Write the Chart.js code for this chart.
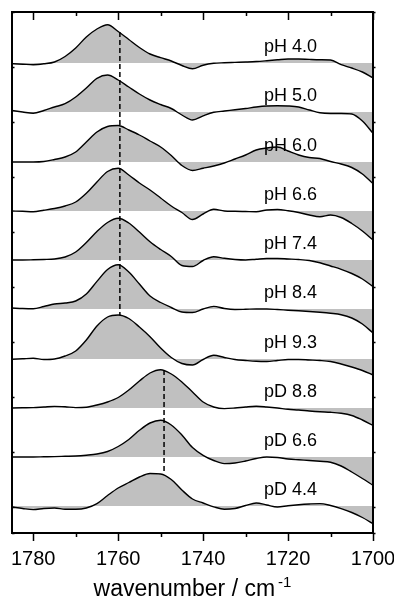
<!DOCTYPE html>
<html>
<head>
<meta charset="utf-8">
<script src="https://cdn.jsdelivr.net/npm/chart.js@4.4.1/dist/chart.umd.min.js"></script>
<style>
  html, body { margin: 0; padding: 0; background: #fff; }
  canvas { display: block; }
</style>
</head>
<body>
<canvas id="spectra" width="394" height="599"></canvas>
<script>
// wavenumber grid (cm-1), shared by all traces
const WAVENUMBERS = [1785,1782.5,1780,1777.5,1775,1772.5,1770,1767.5,1765,1762.5,1760,1757.5,1755,1752.5,1750,1747.5,1745,1742.5,1740,1737.5,1735,1732.5,1730,1727.5,1725,1722.5,1720,1717.5,1715,1712.5,1710,1707.5,1705,1702.5,1700];

const LABELS  = ['pH 4.0','pH 5.0','pH 6.0','pH 6.6','pH 7.4','pH 8.4','pH 9.3','pD 8.8','pD 6.6','pD 4.4'];
// vertical offset of each trace's baseline (arb. units)
const OFFSETS = [444, 395, 345, 296, 247, 198, 148, 99, 50, 1];

// difference absorbance (arb. units)
const pH40 = [-0.7,-1.2,-1.7,-0.8,1,6.5,15,26,34,38.3,31.5,23.5,15.5,9,5.3,2,-2.5,-5.8,-2.2,-0.3,0.2,0.6,1,1.5,2.3,3.2,4,4,3.6,3.3,3,-1.7,-5,-9,-15];
const pH50 = [1.5,0,-1.3,1.5,5,8.3,15,24,33.7,37,32,25,18,12,7.5,3.5,-3,-8,-3.8,-0.3,1,2.2,3.5,5,6,6.2,6,5,2,-0.8,-1.5,-1.5,-2,-9,-21.3];
const pH60 = [0,0,0,0.5,2.5,5,10,20,30,35.5,36.5,32,27,21,15,6.5,-3.5,-8.5,-6.3,-4,-1,3,7,12,14,15,11,7,4.5,3.5,0.5,-2,-5.5,-12,-21.6];
const pH66 = [0,-0.3,-0.7,0.8,2.5,5,9,17.7,29,39.5,42.7,36,28,21,13,5,-1.5,-8.5,-3,1.7,0,-0.3,-0.5,-0.7,1,1.5,0.3,-1.5,-4,-5.7,-4,-6.5,-12.5,-20,-29];
const pH74 = [0,0,0.2,0.5,1,3,8,17.5,28.5,37.5,41.7,37,28,18.3,10.5,3.5,-5.5,-6.5,-0.5,3.3,1.7,0.5,0,0.8,1.5,1.5,1,0.5,-0.5,-2.8,-6,-9.3,-13.5,-19,-26.7];
const pH84 = [1,0.5,0.3,2.5,5,6,8,15,27.6,39.5,44.3,37,25,13,6.5,1.5,-3,-3.5,0,2.6,0.5,-0.5,-0.3,0,0,-0.5,-1.2,-1.8,-2.5,-3.3,-4.3,-5.7,-9,-15,-24];
const pH93 = [-0.3,0.2,0.7,-0.5,0,3,8,19,33,42,44,40.5,32,22.3,11,1.5,-4.5,-6,-0.5,3.8,1.5,-0.5,-1.5,-2.3,-2.5,-1.5,-0.5,-0.5,-1,-1.5,-2.5,-5,-8,-11.5,-16];
const pD88 = [0,0.2,0.4,1,1.6,1.2,0.4,0.8,3,6,10.5,18,27,35,38.3,34,26,16,6,1,-0.6,0,1,1.7,1,0,-1.3,-2,-3,-3.8,-4.3,-5.3,-7.5,-12,-17.3];
const pD66 = [0,0,0,0.2,0.4,0.7,1,1.8,3,5.5,10.5,17.5,26.7,34,36.7,32,22,9.5,1.7,-3.5,-6.6,-6,-4,-1.5,0,-0.5,-2,-2.8,-3.5,-4.3,-5.2,-9,-15,-21.5,-28.3];
const pD44 = [-1,-2.5,-3.6,-2.5,-2,-3.2,-3.3,-2,2.4,10.5,18,23.5,29,32.5,32,26.5,16,7,3,-0.8,-3.3,-2.5,0.5,3,1,-1,0.3,1.3,2,2.4,0.5,-2.6,-6.5,-11.5,-17.6];
const SERIES = [pH40, pH50, pH60, pH66, pH74, pH84, pH93, pD88, pD66, pD44];

// dashed guide lines: band position and vertical extent
const GUIDE_WN     = [1759.6, 1749.2];
const GUIDE_TOP    = [475, 137];
const GUIDE_BOTTOM = [192, 33];

const LABEL_WN = 1719.4;
const FONT = '"Liberation Sans", Arial, Helvetica, sans-serif';

Chart.defaults.font.family = FONT;
Chart.defaults.color = '#000';

const traceSets = SERIES.map((s, i) => ({
  label: LABELS[i],
  data: WAVENUMBERS.map((w, j) => ({ x: w, y: OFFSETS[i] + s[j] })),
  borderColor: '#000',
  borderWidth: 1.4,
  backgroundColor: '#c0c0c0',
  fill: { value: OFFSETS[i] },
  pointRadius: 0,
  cubicInterpolationMode: 'monotone',
  order: 2
}));

const guideSets = GUIDE_WN.map((w, i) => ({
  data: [{ x: w, y: GUIDE_TOP[i] }, { x: w, y: GUIDE_BOTTOM[i] }],
  borderColor: '#000',
  borderWidth: 1.5,
  borderDash: [5, 3],
  pointRadius: 0,
  fill: false,
  order: 1
}));

// frame, inward/outward ticks, trace names and the axis title
const decorations = {
  id: 'decorations',
  afterDatasetsDraw(chart) {
    const { ctx, chartArea: a, scales: { x, y } } = chart;
    ctx.save();
    ctx.fillStyle = '#000';
    ctx.strokeStyle = '#000';

    ctx.font = '18px ' + FONT;
    ctx.textAlign = 'center';
    ctx.textBaseline = 'alphabetic';
    LABELS.forEach((t, i) => {
      ctx.fillText(t, x.getPixelForValue(LABEL_WN), y.getPixelForValue(OFFSETS[i]) - 11);
    });

    ctx.lineWidth = 1.5;
    ctx.beginPath();
    const majors = x.ticks.map(t => t.value);
    const minors = majors.map(v => v + 10).filter(v => v < x.max);
    [[majors, 8], [minors, 4]].forEach(([vals, len]) => {
      vals.forEach(v => {
        const px = Math.round(x.getPixelForValue(v)) + 0.5;
        ctx.moveTo(px, a.top); ctx.lineTo(px, a.top + len);
        ctx.moveTo(px, a.bottom); ctx.lineTo(px, a.bottom + len);
      });
    });
    y.ticks.forEach(t => {
      const py = Math.round(y.getPixelForValue(t.value)) + 0.5;
      ctx.moveTo(a.left, py); ctx.lineTo(a.left + 2.5, py);
      ctx.moveTo(a.right, py); ctx.lineTo(a.right + 2.5, py);
    });
    ctx.stroke();

    ctx.lineWidth = 2;
    ctx.strokeRect(a.left, a.top, a.right - a.left, a.bottom - a.top);

    // axis title with superscript
    const main = 'wavenumber / cm', sup = '-1';
    ctx.font = '23px ' + FONT;
    const w1 = ctx.measureText(main).width;
    ctx.font = '15px ' + FONT;
    const w2 = ctx.measureText(sup).width;
    const x0 = (a.left + a.right) / 2 - (w1 + 3 + w2) / 2;
    const base = 596;
    ctx.textAlign = 'left';
    ctx.font = '23px ' + FONT;
    ctx.fillText(main, x0, base);
    ctx.font = '15px ' + FONT;
    ctx.fillText(sup, x0 + w1 + 3, base - 9);
    ctx.restore();
  }
};

new Chart(document.getElementById('spectra'), {
  type: 'line',
  data: { datasets: [...traceSets, ...guideSets] },
  options: {
    responsive: false,
    animation: false,
    layout: { padding: { top: 12, right: 21, left: 0, bottom: 0 } },
    plugins: { legend: { display: false }, tooltip: { enabled: false } },
    scales: {
      x: {
        type: 'linear',
        reverse: true,
        min: 1700,
        max: 1785,
        grid: { display: false, drawTicks: true, tickLength: 8 },
        border: { display: false },
        ticks: {
          stepSize: 20, includeBounds: false, autoSkip: false, maxRotation: 0, padding: 6,
          font: { size: 20 },
          callback: v => String(v)
        },
        afterFit(scale) { scale.height = 66; scale.paddingLeft = 0; scale.paddingRight = 0; }
      },
      y: {
        type: 'linear',
        min: -26,
        max: 495,
        grid: { display: false },
        border: { display: false },
        ticks: { display: false, stepSize: 55 },
        afterFit(scale) { scale.width = 12; }
      }
    }
  },
  plugins: [decorations]
});
</script>
</body>
</html>
